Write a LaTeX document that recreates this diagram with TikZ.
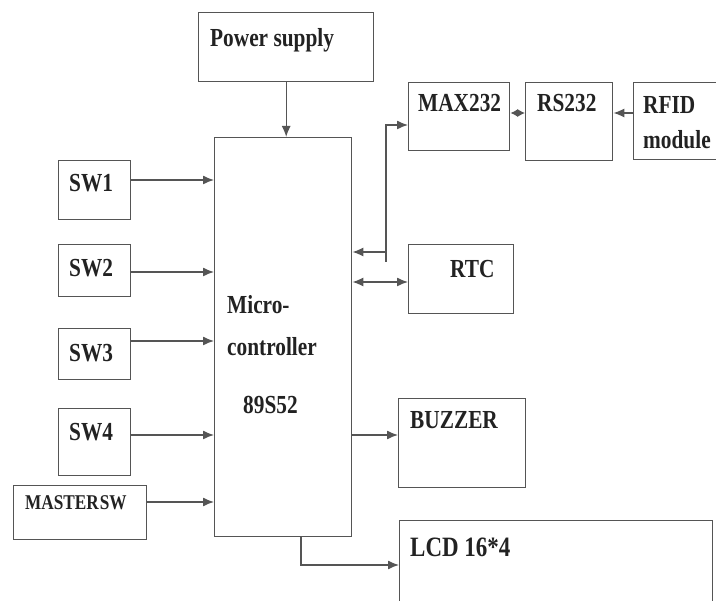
\documentclass[tikz,border=0pt]{standalone}
\usepackage{fontspec}
\setmainfont{Liberation Serif}[FakeStretch=0.82]
\usetikzlibrary{arrows.meta}
\definecolor{linegray}{HTML}{555555}
\definecolor{txt}{HTML}{222222}
\begin{document}
\begin{tikzpicture}[x=1pt,y=-1pt,
  box/.style={draw=linegray,line width=1.4pt,anchor=north west,inner sep=0pt,fill=white},
  lbl/.style={anchor=west,inner sep=0pt,text=txt,font=\fontsize{26}{28}\selectfont\bfseries},
  conn/.style={draw=linegray,line width=1.3pt},
  tip/.tip={Latex[length=11pt,width=9pt]},
  smalltip/.tip={Latex[length=7.5pt,width=8pt]},
  arr/.style={conn,-tip},
  darr/.style={conn,tip-tip},
  sdarr/.style={conn,smalltip-smalltip}]
\useasboundingbox (0,0) rectangle (716,601);
\clip (0,0) rectangle (716,601);
% boxes
\node[box,minimum width=175pt,minimum height=69pt] (ps) at (198,12) {};
\node[box,minimum width=137pt,minimum height=399pt] (mcu) at (214,137) {};
\node[box,minimum width=101pt,minimum height=68pt] (max) at (408,82) {};
\node[box,minimum width=87pt,minimum height=78pt] (rs) at (525,82) {};
\node[box,minimum width=100pt,minimum height=77pt] (rfid) at (633,82) {};
\node[box,minimum width=105pt,minimum height=69pt] (rtc) at (408,244) {};
\node[box,minimum width=72pt,minimum height=59pt] (sw1) at (58,160) {};
\node[box,minimum width=72pt,minimum height=52pt] (sw2) at (58,244) {};
\node[box,minimum width=72pt,minimum height=51pt] (sw3) at (58,328) {};
\node[box,minimum width=72pt,minimum height=67pt] (sw4) at (58,408) {};
\node[box,minimum width=133pt,minimum height=54pt] (msw) at (13,485) {};
\node[box,minimum width=127pt,minimum height=89pt] (buz) at (398,398) {};
\node[box,minimum width=313pt,minimum height=100pt] (lcd) at (399,520) {};
% labels
\node[lbl] (psl) at (210,40) {Power supply};
\node[lbl] (maxl) at (418,103) {MAX232};
\node[lbl] (rsl) at (537,103) {RS232};
\node[lbl] (rfidl) at (643,105) {RFID};
\node[lbl] (modl) at (643,140) {module};
\node[lbl] (rtcl) at (450,269) {RTC};
\node[lbl] (sw1l) at (69,183) {SW1};
\node[lbl] (sw2l) at (69,268) {SW2};
\node[lbl] (sw3l) at (69,353) {SW3};
\node[lbl] (sw4l) at (69,432) {SW4};
\node[lbl,font=\fontsize{21}{23}\selectfont\bfseries] (mswl) at (25,503) {MASTER\hspace{1pt}SW};
\node[lbl] (mcl1) at (227,305) {Micro-};
\node[lbl] (mcl2) at (227,347) {controller};
\node[lbl] (mcl3) at (243,405) {89S52};
\node[lbl] (buzl) at (410,420) {BUZZER};
\node[lbl,font=\fontsize{28}{30}\selectfont\bfseries] (lcdl) at (410,547) {LCD 16*4};
% connectors
\draw[arr] (ps.south) -- (ps.south |- mcu.north);
\draw[arr] (sw1.east |- 0,180) -- (mcu.west |- 0,180);
\draw[arr] (sw2.east |- 0,272) -- (mcu.west |- 0,272);
\draw[arr] (sw3.east |- 0,341) -- (mcu.west |- 0,341);
\draw[arr] (sw4.east |- 0,435) -- (mcu.west |- 0,435);
\draw[arr] (msw.east |- 0,502) -- (mcu.west |- 0,502);
\coordinate (j) at (386,252);
\coordinate (jend) at (386,262);
\draw[arr] (j) -- (mcu.east |- j);
\draw[arr] (jend) -- (j) |- (max.west |- 0,125);
\draw[darr] (mcu.east |- 0,282) -- (rtc.west |- 0,282);
\draw[sdarr] (max.east |- 0,113) -- (rs.west |- 0,113);
\draw[arr] (rfid.west |- 0,113) -- (rs.east |- 0,113);
\draw[arr] (mcu.east |- 0,435) -- (buz.west |- 0,435);
\coordinate (lb) at (301,565);
\draw[arr] (mcu.south -| lb) -- (lb) -- (lcd.west |- lb);
\end{tikzpicture}
\end{document}
